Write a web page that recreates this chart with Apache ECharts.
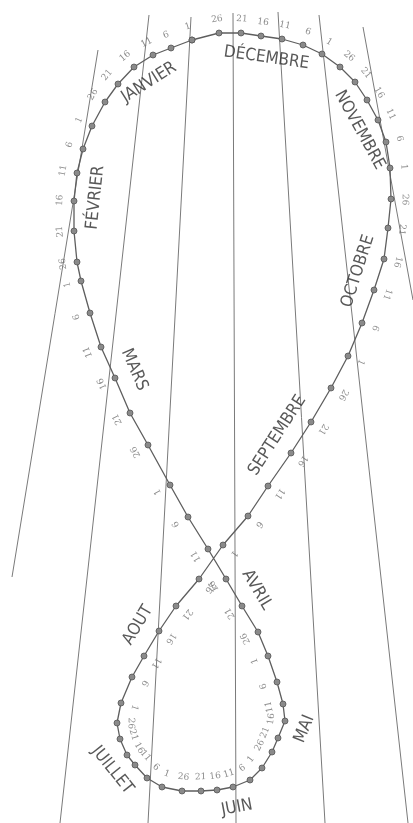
<!DOCTYPE html>
<html lang="fr">

<head>
  <meta charset="UTF-8">
  <script src="https://cdn.jsdelivr.net/npm/echarts/dist/echarts.min.js"></script>
  <title>Analemme</title>
  <style>
    html,
    body,
    main {
      height: 100%;
      width: 100%;
      padding: 0;
      margin: 0;
      background: #fff;
    }
  </style>
</head>

<body>
  <main></main>
</body>
<script>
  // dates marked on the curve: every 5 days, month by month
  const months = ['JANVIER', 'FÉVRIER', 'MARS', 'AVRIL', 'MAI', 'JUIN',
    'JUILLET', 'AOUT', 'SEPTEMBRE', 'OCTOBRE', 'NOVEMBRE', 'DÉCEMBRE']
  const dayTicks = [1, 6, 11, 16, 21, 26]

  // positions of the dots (same order: jan 1, jan 6 ... dec 26)
  const posX = [
    192, 171, 153, 134, 118, 105,
    92, 83, 77, 74, 74, 77,
    81, 90, 101, 115, 130, 148,
    170, 188, 208, 226, 242, 258,
    268, 277, 283, 285, 278, 272,
    262, 250, 233, 217, 201, 182,
    162, 147, 135, 127, 120, 117,
    121, 132, 144, 159, 176, 199,
    223, 248, 268, 291, 311, 331,
    348, 362, 374, 384, 388, 391,
    390, 386, 378, 367, 355, 340,
    322, 303, 282, 261, 241, 219
  ]
  const posY = [
    40, 48, 55, 67, 84, 102,
    126, 149, 173, 201, 231, 262,
    281, 313, 347, 378, 413, 445,
    485, 517, 549, 579, 606, 632,
    656, 682, 704, 721, 738, 752,
    768, 780, 787, 790, 791, 791,
    787, 778, 765, 755, 739, 723,
    703, 677, 656, 631, 606, 579,
    545, 516, 486, 453, 422, 388,
    356, 323, 290, 259, 228, 199,
    168, 142, 120, 100, 82, 67,
    54, 45, 39, 36, 33, 33
  ]

  // day of the month where each month name sits along the curve
  const monthLabelDay = [15, 15, 16, 20, 16, 11, 15, 15, 17, 13, 11, 14]

  // hour lines, start and end
  const lineTopX = [98, 149, 191, 233, 278, 319, 363]
  const lineTopY = [50, 15, 17, 13, 12, 15, 27]
  const lineEndX = [12, 60, 148, 236, 325, 408, 413]
  const lineEndY = [577, 823, 823, 823, 823, 823, 300]

  const N = posX.length
  const pts = posX.map((x, i) => [x, posY[i]])

  // unit vector to the right of the direction of travel
  function rightNormal(a, b) {
    const tx = b[0] - a[0], ty = b[1] - a[1]
    const len = Math.hypot(tx, ty)
    return [-ty / len, tx / len]
  }
  // label rotation so that the top of the text points along (nx, ny)
  function rotFor(nx, ny) {
    let r = Math.atan2(-ny, nx) * 180 / Math.PI - 90
    while (r > 180) r -= 360
    while (r <= -180) r += 360
    return r
  }

  const dayLabels = pts.map((p, i) => {
    const n = rightNormal(pts[(i - 1 + N) % N], pts[(i + 1) % N])
    return {
      name: String(dayTicks[i % 6]),
      value: [p[0] + n[0] * 14, p[1] + n[1] * 14],
      label: { rotate: rotFor(n[0], n[1]) }
    }
  })

  // centres of the two loops (april..august is the lower one)
  const upper = pts.filter((p, i) => { const m = Math.floor(i / 6); return m <= 2 || m >= 8 })
  const lower = pts.filter((p, i) => { const m = Math.floor(i / 6); return m > 2 && m < 8 })
  const centre = (arr) => [arr.reduce((s, p) => s + p[0], 0) / arr.length, arr.reduce((s, p) => s + p[1], 0) / arr.length]
  const cUp = centre(upper)
  const cLow = centre(lower)

  const monthLabels = months.map((name, m) => {
    const d = monthLabelDay[m]
    let k = 0
    dayTicks.forEach((t, j) => { if (t <= d) k = j })
    const i = m * 6 + k
    const f = (d - dayTicks[k]) / 5
    const a = pts[i], b = pts[(i + 1) % N]
    const p = [a[0] + (b[0] - a[0]) * f, a[1] + (b[1] - a[1]) * f]
    const n = rightNormal(a, b)
    const c = (m > 2 && m < 8) ? cLow : cUp
    const away = [p[0] - c[0], p[1] - c[1]]
    const s = (n[0] * away[0] + n[1] * away[1]) > 0 ? 1 : -1
    let r = rotFor(n[0] * s, n[1] * s)
    if (r > 100) r -= 180
    if (r < -100) r += 180
    return {
      name: name,
      value: [p[0] - n[0] * 21, p[1] - n[1] * 21],
      label: { rotate: r }
    }
  })

  const hourSeries = lineTopX.map((x, i) => ({
    type: 'line',
    data: [[x, lineTopY[i]], [lineEndX[i], lineEndY[i]]],
    symbol: 'none',
    silent: true,
    lineStyle: { color: '#7a7a7a', width: 1 }
  }))

  const option = {
    animation: false,
    backgroundColor: '#fff',
    grid: { left: 0, right: 0, top: 0, bottom: 0 },
    xAxis: { type: 'value', min: 0, max: 413, show: false },
    yAxis: { type: 'value', min: 0, max: 823, inverse: true, show: false },
    series: [
      ...hourSeries,
      {
        type: 'line',
        data: [...pts, pts[0]],
        symbol: 'circle',
        symbolSize: 6,
        itemStyle: { color: '#8a8a8a', borderColor: '#555', borderWidth: 0.8 },
        lineStyle: { color: '#5e5e5e', width: 1.3 },
        z: 3
      },
      {
        type: 'scatter',
        data: dayLabels,
        symbolSize: 1,
        itemStyle: { color: 'rgba(0,0,0,0)' },
        label: {
          show: true,
          position: 'inside',
          formatter: '{b}',
          fontSize: 9,
          fontFamily: 'DejaVu Serif',
          color: '#6f6f6f'
        },
        z: 4
      },
      {
        type: 'scatter',
        data: monthLabels,
        symbolSize: 1,
        itemStyle: { color: 'rgba(0,0,0,0)' },
        label: {
          show: true,
          position: 'inside',
          formatter: '{b}',
          fontSize: 17,
          fontFamily: 'DejaVu Sans Condensed',
          color: '#2e2e2e'
        },
        z: 4
      }
    ]
  }
  const ins = echarts.init(document.getElementsByTagName('main')[0])
  ins.setOption(option)
</script>

</html>
